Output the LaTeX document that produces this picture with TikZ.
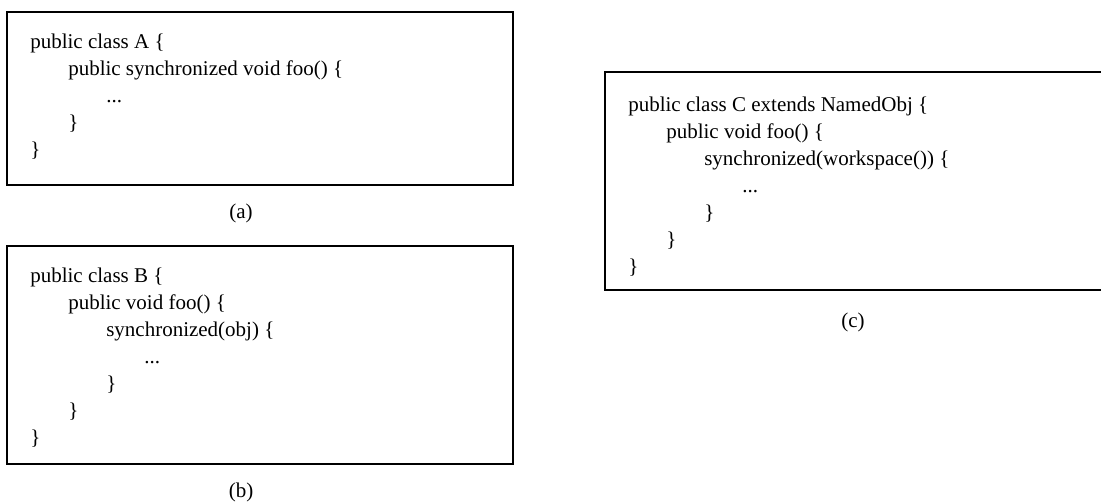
\documentclass[tikz,border=0pt]{standalone}
\usepackage{fontspec}
\setmainfont{Liberation Serif}
\newcommand\codeindent{\hspace*{28.5pt}}
\begin{document}
\begin{tikzpicture}[x=0.75pt,y=-0.75pt,
  codebox/.style={draw=black, line width=1.5pt, anchor=north west,
    inner sep=0pt, outer sep=0pt},
  code/.style={anchor=north west, inner sep=0pt, align=left,
    font=\fontsize{15.75}{20.25}\selectfont},
  caption/.style={inner sep=0pt, font=\fontsize{15.75}{20.25}\selectfont}]
\clip (0,0) rectangle (1101,502);

% (a) synchronized method
\node[codebox, minimum width=379.5pt, minimum height=129.75pt] (boxA) at (7,12) {};
\node[code] (codeA) at (30,34) {%
public class A \{\\
\codeindent public synchronized void foo() \{\\
\codeindent\codeindent ...\\
\codeindent \}\\
\}};
\node[caption] (capA) at (241,213) {(a)};

% (b) synchronized block on a field
\node[codebox, minimum width=379.5pt, minimum height=163.5pt] (boxB) at (7,246) {};
\node[code] (codeB) at (30,268) {%
public class B \{\\
\codeindent public void foo() \{\\
\codeindent\codeindent synchronized(obj) \{\\
\codeindent\codeindent\codeindent ...\\
\codeindent\codeindent \}\\
\codeindent \}\\
\}};
\node[caption] (capB) at (241,492) {(b)};

% (c) synchronized block on the workspace
\node[codebox, minimum width=390pt, minimum height=163.5pt] (boxC) at (605,72) {};
\node[code] (codeC) at (628,97) {%
public class C extends NamedObj \{\\
\codeindent public void foo() \{\\
\codeindent\codeindent synchronized(workspace()) \{\\
\codeindent\codeindent\codeindent ...\\
\codeindent\codeindent \}\\
\codeindent \}\\
\}};
\node[caption] (capC) at (853,322) {(c)};
\end{tikzpicture}
\end{document}
